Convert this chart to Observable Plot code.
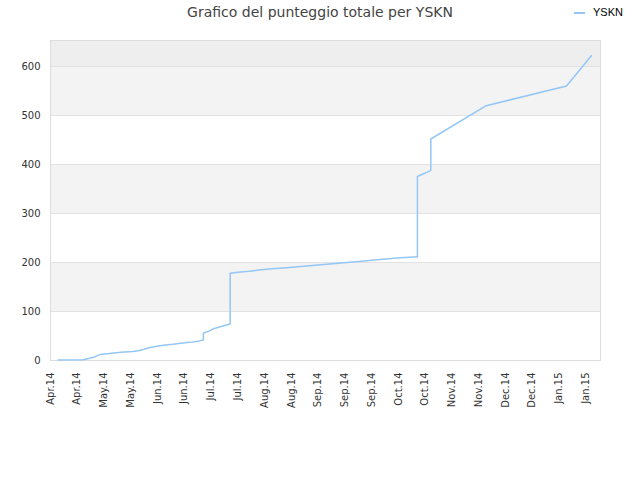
<!DOCTYPE html>
<html><head><meta charset="utf-8">
<script src="https://cdn.jsdelivr.net/npm/d3@7"></script>
<script src="https://cdn.jsdelivr.net/npm/@observablehq/plot@0.6"></script>
<style>
body{margin:0;background:#fff;}
#wrap{position:relative;width:640px;height:480px;}
#title{position:absolute;top:3px;left:0;width:640px;text-align:center;font:14px/18px "DejaVu Sans";color:#444;}
#legend{position:absolute;top:6px;left:574px;font:11px "Liberation Sans";color:#000;white-space:nowrap;}
#legend .sw{display:inline-block;width:11px;height:2px;background:#94c6f6;margin-right:8px;vertical-align:middle;}
#chart{position:absolute;top:0;left:0;}
</style></head><body>
<div id="wrap"><div id="chart"></div><div id="title">Grafico del punteggio totale per YSKN</div><div id="legend"><span class="sw"></span>YSKN</div></div>
<script>
const dates = ["2014-04-18","2014-05-01","2014-05-04","2014-05-07","2014-05-09","2014-05-11","2014-05-16","2014-05-21","2014-05-27","2014-05-30","2014-06-02","2014-06-05","2014-06-08","2014-06-12","2014-06-17","2014-06-21","2014-06-26","2014-07-01","2014-07-03","2014-07-03","2014-07-06","2014-07-08","2014-07-11","2014-07-16","2014-07-17","2014-07-17","2014-07-21","2014-07-27","2014-08-02","2014-08-08","2014-08-14","2014-08-20","2014-08-26","2014-09-01","2014-09-07","2014-09-13","2014-09-19","2014-09-25","2014-10-02","2014-10-08","2014-10-14","2014-10-21","2014-10-23","2014-10-23","2014-10-25","2014-10-28","2014-10-30","2014-10-30","2014-11-28","2015-01-09","2015-01-22"];
const scores = [1,1.5,4,7,11,13,15,17,18.5,20,23,26.5,28.5,31,33,35,37,40,42,56,60,64.5,68,73.5,75,178,180,182,185,187,189,191,193,195,197,199,201,203,205.5,207.5,209.5,211,211,375.5,379,384,388,452,520,560,622];
const tickDates = ["2014-04-14","2014-04-28","2014-05-12","2014-05-26","2014-06-09","2014-06-23","2014-07-07","2014-07-21","2014-08-04","2014-08-18","2014-09-01","2014-09-15","2014-09-29","2014-10-13","2014-10-27","2014-11-10","2014-11-24","2014-12-08","2014-12-22","2015-01-05","2015-01-19"];
const tickLabels = ["Apr.14","Apr.14","May.14","May.14","Jun.14","Jun.14","Jul.14","Jul.14","Aug.14","Aug.14","Sep.14","Sep.14","Sep.14","Oct.14","Oct.14","Nov.14","Nov.14","Dec.14","Dec.14","Jan.15","Jan.15"];
const yTicks = [0,100,200,300,400,500,600];
const bandLow = [100,300,500];
const bandHigh = [200,400,600];
const topBand = [600,653];

const data = dates.map((d,i)=>({date:new Date(d+"T00:00:00Z"), score:scores[i]}));
const ticks = tickDates.map(d=>new Date(d+"T00:00:00Z"));
const labelMap = new Map(ticks.map((t,i)=>[+t, tickLabels[i]]));

const chart = Plot.plot({
  width:640, height:480,
  marginLeft:50, marginRight:40, marginTop:40, marginBottom:120,
  style:{fontFamily:"DejaVu Sans", fontSize:"10px", color:"#333", background:"transparent"},
  x:{type:"utc", domain:[new Date("2014-04-14T00:00:00Z"), new Date("2015-01-26T19:00:00Z")]},
  y:{domain:[0, topBand[1]]},
  marks:[
    Plot.rect(bandLow, {y1:d=>d, y2:(d,i)=>bandHigh[i], fill:"#f3f3f3"}),
    Plot.rect([topBand], {y1:d=>d[0], y2:d=>d[1], fill:"#eeeeee"}),
    Plot.ruleY(yTicks.slice(1), {stroke:"#e2e2e2"}),
    Plot.frame({stroke:"#dddddd"}),
    Plot.line(data, {x:"date", y:"score", stroke:"#94c6f6", strokeWidth:1.5}),
    Plot.axisX(ticks, {tickRotate:-90, tickSize:0, tickPadding:12, tickFormat:d=>labelMap.get(+d), label:null, fill:"#333"}),
    Plot.axisY(yTicks, {tickSize:0, tickPadding:10, label:null, fill:"#333"})
  ]
});
document.getElementById("chart").appendChild(chart);
</script>
</body></html>
